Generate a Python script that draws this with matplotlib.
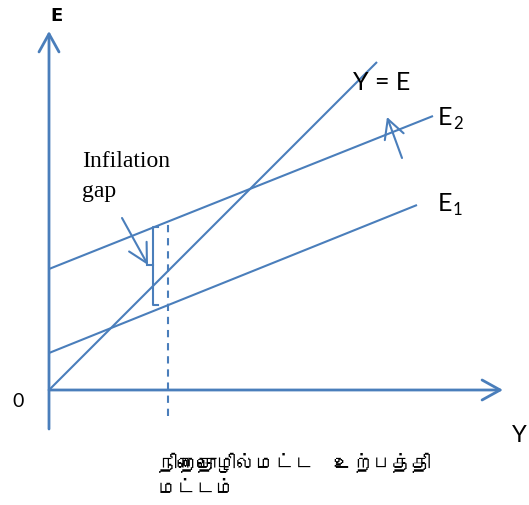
import matplotlib
matplotlib.use('Agg')
import matplotlib.pyplot as plt
from matplotlib import font_manager
from matplotlib.ft2font import FT2Font


def find_tamil_font():
    for f in font_manager.fontManager.ttflist:
        try:
            ft = FT2Font(f.fname)
            if ft.get_char_index(0x0BA8):
                return f.name
        except Exception:
            pass
    return None


# ---- data (chart units, origin at 0) ----
yeq_x = [0, 328]
yeq_y = [0, 328]
e1_x = [0, 368]
e1_y = [37, 185]
e2_x = [0, 384]
e2_y = [121, 274]
y_full = 119
gap_x = 104
gap_top = 163
gap_bottom = 85

label_yeq = "Y = E"
label_e1 = ("E", "1")
label_e2 = ("E", "2")
label_axis_y = "E"
label_axis_x = "Y"
label_origin = "0"
label_gap = ["Infilation", "gap"]
label_full = ["நிறைதொழில்மட்ட  உற்பத்தி", "மட்டம்"]

color = '#4A7EBB'

fig = plt.figure(figsize=(5.29, 5.06), dpi=100)
ax = fig.add_axes([0, 0, 1, 1])
ax.set_xlim(-49, 480)
ax.set_ylim(-115, 391)
ax.axis('off')

axis_style = dict(arrowstyle='->,head_length=1.3,head_width=0.72', mutation_scale=10,
                  lw=2.0, color=color, shrinkA=0, shrinkB=0)
# axes
ax.annotate('', xy=(0, 359), xytext=(0, -39), arrowprops=axis_style)
ax.annotate('', xy=(454, 0), xytext=(0, 0), arrowprops=axis_style)

lw = 1.5
ax.plot(yeq_x, yeq_y, color=color, lw=lw, solid_capstyle='butt')
ax.plot(e1_x, e1_y, color=color, lw=lw, solid_capstyle='butt')
ax.plot(e2_x, e2_y, color=color, lw=lw, solid_capstyle='butt')

# full employment dashed line
ax.plot([y_full, y_full], [-26, gap_top + 3], color=color, lw=lw,
        linestyle=(0, (3.5, 2.8)))

# bracket for the gap
gap_mid = (gap_top + gap_bottom) / 2 + 1
ax.plot([gap_x + 5, gap_x, gap_x, gap_x + 5], [gap_top, gap_top, gap_bottom, gap_bottom],
        color=color, lw=lw)
ax.plot([gap_x - 6, gap_x], [gap_mid, gap_mid], color=color, lw=lw)

small_arrow = dict(arrowstyle='->,head_length=1.35,head_width=0.72', mutation_scale=10,
                   lw=lw, color=color, shrinkA=0, shrinkB=0)
# arrow to the gap
ax.annotate('', xy=(gap_x - 5, gap_mid), xytext=(73, 172), arrowprops=small_arrow)
# upward shift arrow
ax.annotate('', xy=(338, 273), xytext=(353, 232), arrowprops=small_arrow)

# texts
ax.text(1, 370, label_axis_y, fontsize=13, fontweight='bold', family='DejaVu Sans',
        va='baseline', ha='left', color='black')
ax.text(304, 301, label_yeq, fontsize=18, family='Lato', va='baseline', ha='left')
ax.text(389, 266, label_e2[0], fontsize=18, family='Lato', va='baseline', ha='left')
ax.text(404, 262, label_e2[1], fontsize=12, family='Lato', va='baseline', ha='left')
ax.text(389, 180, label_e1[0], fontsize=18, family='Lato', va='baseline', ha='left')
ax.text(404, 176, label_e1[1], fontsize=12, family='Lato', va='baseline', ha='left')
ax.text(-37, -16, label_origin, fontsize=14, family='Lato', va='baseline', ha='left')
ax.text(463, -51, label_axis_x, fontsize=17, family='Lato', va='baseline', ha='left')
ax.text(33, 224, label_gap[0], fontsize=17, family='Liberation Serif', va='baseline', ha='left')
ax.text(33, 194, label_gap[1], fontsize=17, family='Liberation Serif', va='baseline', ha='left')

tamil = find_tamil_font()
fams = [tamil, 'DejaVu Sans'] if tamil else ['DejaVu Sans']
ax.text(109, -79, label_full[0], fontsize=14, family=fams, va='baseline', ha='left')
ax.text(109, -103, label_full[1], fontsize=14, family=fams, va='baseline', ha='left')

fig.savefig('out.png', dpi=100)
